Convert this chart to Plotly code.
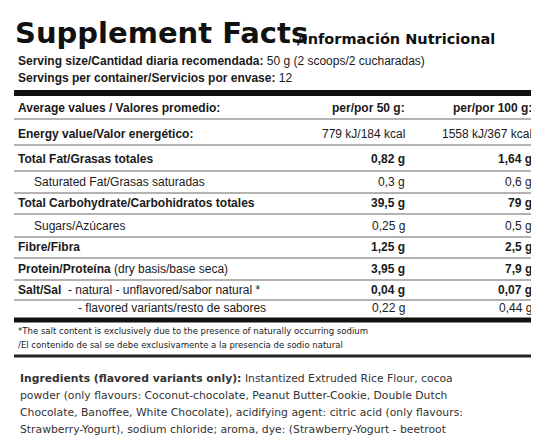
import plotly.graph_objects as go

# Table data ---------------------------------------------
labels = ["Energy value/Valor energético:", "Total Fat/Grasas totales", "Saturated Fat/Grasas saturadas",
          "Total Carbohydrate/Carbohidratos totales", "Sugars/Azúcares", "Fibre/Fibra",
          "<b>Protein/Proteína</b> (dry basis/base seca)",
          "<b>Salt/Sal</b>  - natural - unflavored/sabor natural *",
          "- flavored variants/resto de sabores"]
per50 = ["779 kJ/184 kcal", "0,82 g", "0,3 g", "39,5 g", "0,25 g", "1,25 g", "3,95 g", "0,04 g", "0,22 g"]
per100 = ["1558 kJ/367 kcal", "1,64 g", "0,6 g", "79 g", "0,5 g", "2,5 g", "7,9 g", "0,07 g", "0,44 g"]
bold = [True, True, False, True, False, True, True, True, False]
indent = [8, 8, 24, 8, 24, 8, 8, 8, 68]
row_y = [119, 144, 167, 188, 211, 232, 254, 275, 293]
line_y = [130, 156, 178, 199, 222, 243, 265, 285]

ingredients = [
    "<b>Ingredients (flavored variants only):</b> Instantized Extruded Rice Flour, cocoa",
    "powder (only flavours: Coconut-chocolate, Peanut Butter-Cookie, Double Dutch",
    "Chocolate, Banoffee, White Chocolate), acidifying agent: citric acid (only flavours:",
    "Strawberry-Yogurt), sodium chloride; aroma, dye: (Strawberry-Yogurt - beetroot",
    "extract); sweeteners: steviol glycosides, sucralose and acesulfame-K",
]
ingr_y = [363, 380, 397, 414, 431]

FONT = "Liberation Sans"
OFF = 7  # vertical offset correction
fig = go.Figure()
ann = []
shapes = []

def txt(x, y, s, size=12, anchor="left", family=FONT, color="#1a1a1a", b=False):
    ann.append(dict(x=x, y=y, xref="x", yref="y", text=("<b>%s</b>" % s) if b else s,
                    showarrow=False, xanchor=anchor, yanchor="middle",
                    font=dict(family=family, size=size, color=color)))

def hline(y, w=1, x0=6, x1=532, color="#666"):
    shapes.append(dict(type="line", xref="x", yref="y", x0=x0, x1=x1, y0=y, y1=y,
                       line=dict(color=color, width=w)))

# Header ---------------------------------------------------
txt(5, 18, "Supplement Facts", size=29, family="DejaVu Sans", b=True, color="#111")
txt(287, 24, "/Información Nutricional", size=14.5, family="DejaVu Sans", b=True, color="#111")
txt(8, 46, "<b>Serving size/Cantidad diaria recomendada:</b> 50 g (2 scoops/2 cucharadas)")
txt(8, 63, "<b>Servings per container/Servicios por envase:</b> 12")
hline(78, w=6, color="#111")
txt(8, 93, "Average values / Valores promedio:", b=True)
txt(399, 93, "per/por 50 g:", anchor="right", b=True)
txt(526, 93, "per/por 100 g:", anchor="right", b=True)
hline(104)

for i in range(len(labels)):
    txt(indent[i], row_y[i], labels[i], b=bold[i] and "<b>" not in labels[i])
    txt(399, row_y[i], per50[i], anchor="right", b=bold[i] and i > 0)
    txt(526, row_y[i], per100[i], anchor="right", b=bold[i] and i > 0)
for y in line_y:
    hline(y)
hline(305, w=5, color="#111")

txt(8, 315, "*The salt content is exclusively due to the presence of naturally occurring sodium", size=9.5,
    family="Liberation Sans Narrow, DejaVu Sans Condensed")
txt(8, 329, "/El contenido de sal se debe exclusivamente a la presencia de sodio natural", size=9.5,
    family="Liberation Sans Narrow, DejaVu Sans Condensed")
hline(341, w=3, color="#222")

for s, y in zip(ingredients, ingr_y):
    txt(10, y, s, size=10.8, family="DejaVu Sans", color="#333")

fig.update_layout(
    width=539, height=439, margin=dict(l=0, r=0, t=0, b=0),
    paper_bgcolor="white", plot_bgcolor="white",
    xaxis=dict(range=[0, 539], visible=False, fixedrange=True),
    yaxis=dict(range=[439 - OFF, -OFF], visible=False, fixedrange=True),
    annotations=ann, shapes=shapes, showlegend=False,
)
fig.write_html("out.html")
